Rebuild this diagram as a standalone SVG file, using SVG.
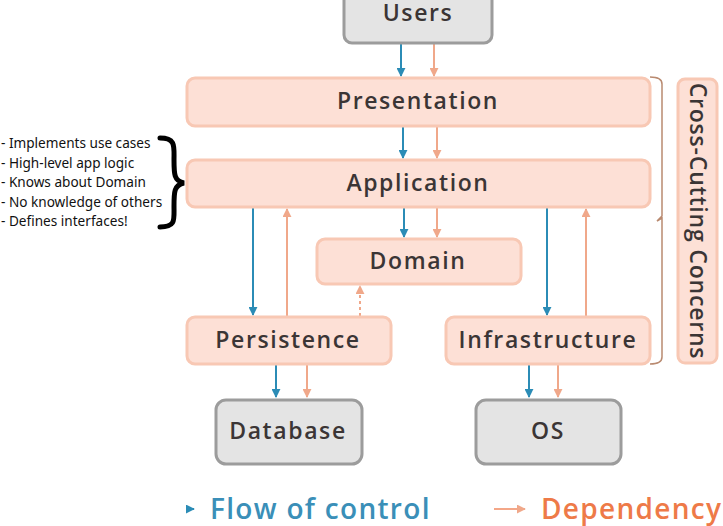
<svg xmlns="http://www.w3.org/2000/svg" width="723" height="526" viewBox="0 0 723 526">
<defs>
<style>
.layer{fill:#fde0d6;stroke:#f8c8b4;stroke-width:3}
.ext{fill:#e4e4e4;stroke:#9c9c9c;stroke-width:3}
.lbl{font-family:"Open Sans","Liberation Sans",sans-serif;font-weight:600;font-size:23px;letter-spacing:1.6px;fill:#3b3535;text-anchor:middle}
.note{font-family:"Noto Sans","Liberation Sans",sans-serif;font-size:13.6px;fill:#111}
.ctl{stroke:#2b8cb6;stroke-width:2;fill:none}
.dep{stroke:#f0a88a;stroke-width:2;fill:none}
.leg{font-family:"Open Sans","Liberation Sans",sans-serif;font-weight:600;font-size:28px;letter-spacing:1.3px}
</style>
<marker id="ab" viewBox="0 0 10 10" refX="9" refY="5" markerWidth="9" markerHeight="9" markerUnits="userSpaceOnUse" orient="auto"><path d="M0,0 L10,5 L0,10 z" fill="#2b8cb6"/></marker>
<marker id="ao" viewBox="0 0 10 10" refX="9" refY="5" markerWidth="9" markerHeight="9" markerUnits="userSpaceOnUse" orient="auto"><path d="M0,0 L10,5 L0,10 z" fill="#f0a88a"/></marker>
</defs>
<rect width="723" height="526" fill="#fff"/>

<g id="connectors">
<line class="ctl" x1="401" y1="44" x2="401" y2="76" marker-end="url(#ab)"/>
<line class="dep" x1="434" y1="44" x2="434" y2="76" marker-end="url(#ao)"/>
<line class="ctl" x1="403" y1="127" x2="403" y2="158" marker-end="url(#ab)"/>
<line class="dep" x1="437" y1="127" x2="437" y2="158" marker-end="url(#ao)"/>
<line class="ctl" x1="404" y1="208" x2="404" y2="237" marker-end="url(#ab)"/>
<line class="dep" x1="437" y1="208" x2="437" y2="237" marker-end="url(#ao)"/>
<line class="ctl" x1="253" y1="208" x2="253" y2="315" marker-end="url(#ab)"/>
<line class="dep" x1="287" y1="316" x2="287" y2="209" marker-end="url(#ao)"/>
<line class="dep" x1="360" y1="316" x2="360" y2="286" stroke-dasharray="3,3" marker-end="url(#ao)"/>
<line class="ctl" x1="547" y1="208" x2="547" y2="315" marker-end="url(#ab)"/>
<line class="dep" x1="586" y1="316" x2="586" y2="209" marker-end="url(#ao)"/>
<line class="ctl" x1="276" y1="365" x2="276" y2="397" marker-end="url(#ab)"/>
<line class="dep" x1="307" y1="365" x2="307" y2="397" marker-end="url(#ao)"/>
<line class="ctl" x1="529" y1="365" x2="529" y2="397" marker-end="url(#ab)"/>
<line class="dep" x1="558" y1="365" x2="558" y2="397" marker-end="url(#ao)"/>
<path d="M650,77 Q662,77 662,84 L662,216 L657,221 L662,218 L662,357 Q662,364 650,364" fill="none" stroke="#b98a70" stroke-width="1.5"/>
</g>

<g id="users"><rect class="ext" x="344" y="-10" width="148" height="53" rx="8"/><text class="lbl" x="418" y="21">Users</text></g>
<g id="presentation"><rect class="layer" x="187" y="78" width="463" height="48" rx="8"/><text class="lbl" x="418" y="109">Presentation</text></g>
<g id="application"><rect class="layer" x="187" y="160" width="463" height="47" rx="8"/><text class="lbl" x="418" y="191">Application</text></g>
<g id="domain"><rect class="layer" x="317" y="239" width="204" height="45" rx="8"/><text class="lbl" x="418" y="269">Domain</text></g>
<g id="persistence"><rect class="layer" x="187" y="317" width="204" height="47" rx="8"/><text class="lbl" x="288" y="348">Persistence</text></g>
<g id="infrastructure"><rect class="layer" x="446" y="317" width="204" height="47" rx="8"/><text class="lbl" x="548" y="348">Infrastructure</text></g>
<g id="database"><rect class="ext" x="216" y="400" width="146" height="64" rx="10"/><text class="lbl" x="288" y="439">Database</text></g>
<g id="os"><rect class="ext" x="476" y="400" width="145" height="64" rx="10"/><text class="lbl" x="548" y="439">OS</text></g>
<g id="crosscutting"><rect class="layer" x="678" y="79" width="39" height="284" rx="7"/><text class="lbl" style="letter-spacing:0.8px" transform="translate(690,221) rotate(90)" x="0" y="0">Cross-Cutting Concerns</text></g>

<g id="notes">
<text class="note" x="1" y="148">- Implements use cases</text>
<text class="note" x="1" y="168">- High-level app logic</text>
<text class="note" x="1" y="187">- Knows about Domain</text>
<text class="note" x="1" y="207">- No knowledge of others</text>
<text class="note" x="1" y="226">- Defines interfaces!</text>
<path d="M160,138 C176,138 174,146 174,160 C174,174 174,181 184,183 C174,185 174,192 174,206 C174,220 176,227 160,227" fill="none" stroke="#000" stroke-width="5" stroke-linecap="round"/>
</g>

<g id="legend">
<line x1="186" y1="509" x2="194" y2="509" stroke="#2b8cb6" stroke-width="2" marker-end="url(#ab)"/>
<text class="leg" x="210" y="519" fill="#3a8fb8">Flow of control</text>
<line x1="494" y1="509" x2="525" y2="509" stroke="#f08a60" stroke-width="1.5" marker-end="url(#ao)"/>
<text class="leg" x="541" y="519" fill="#ee7a48">Dependency</text>
</g>
</svg>
